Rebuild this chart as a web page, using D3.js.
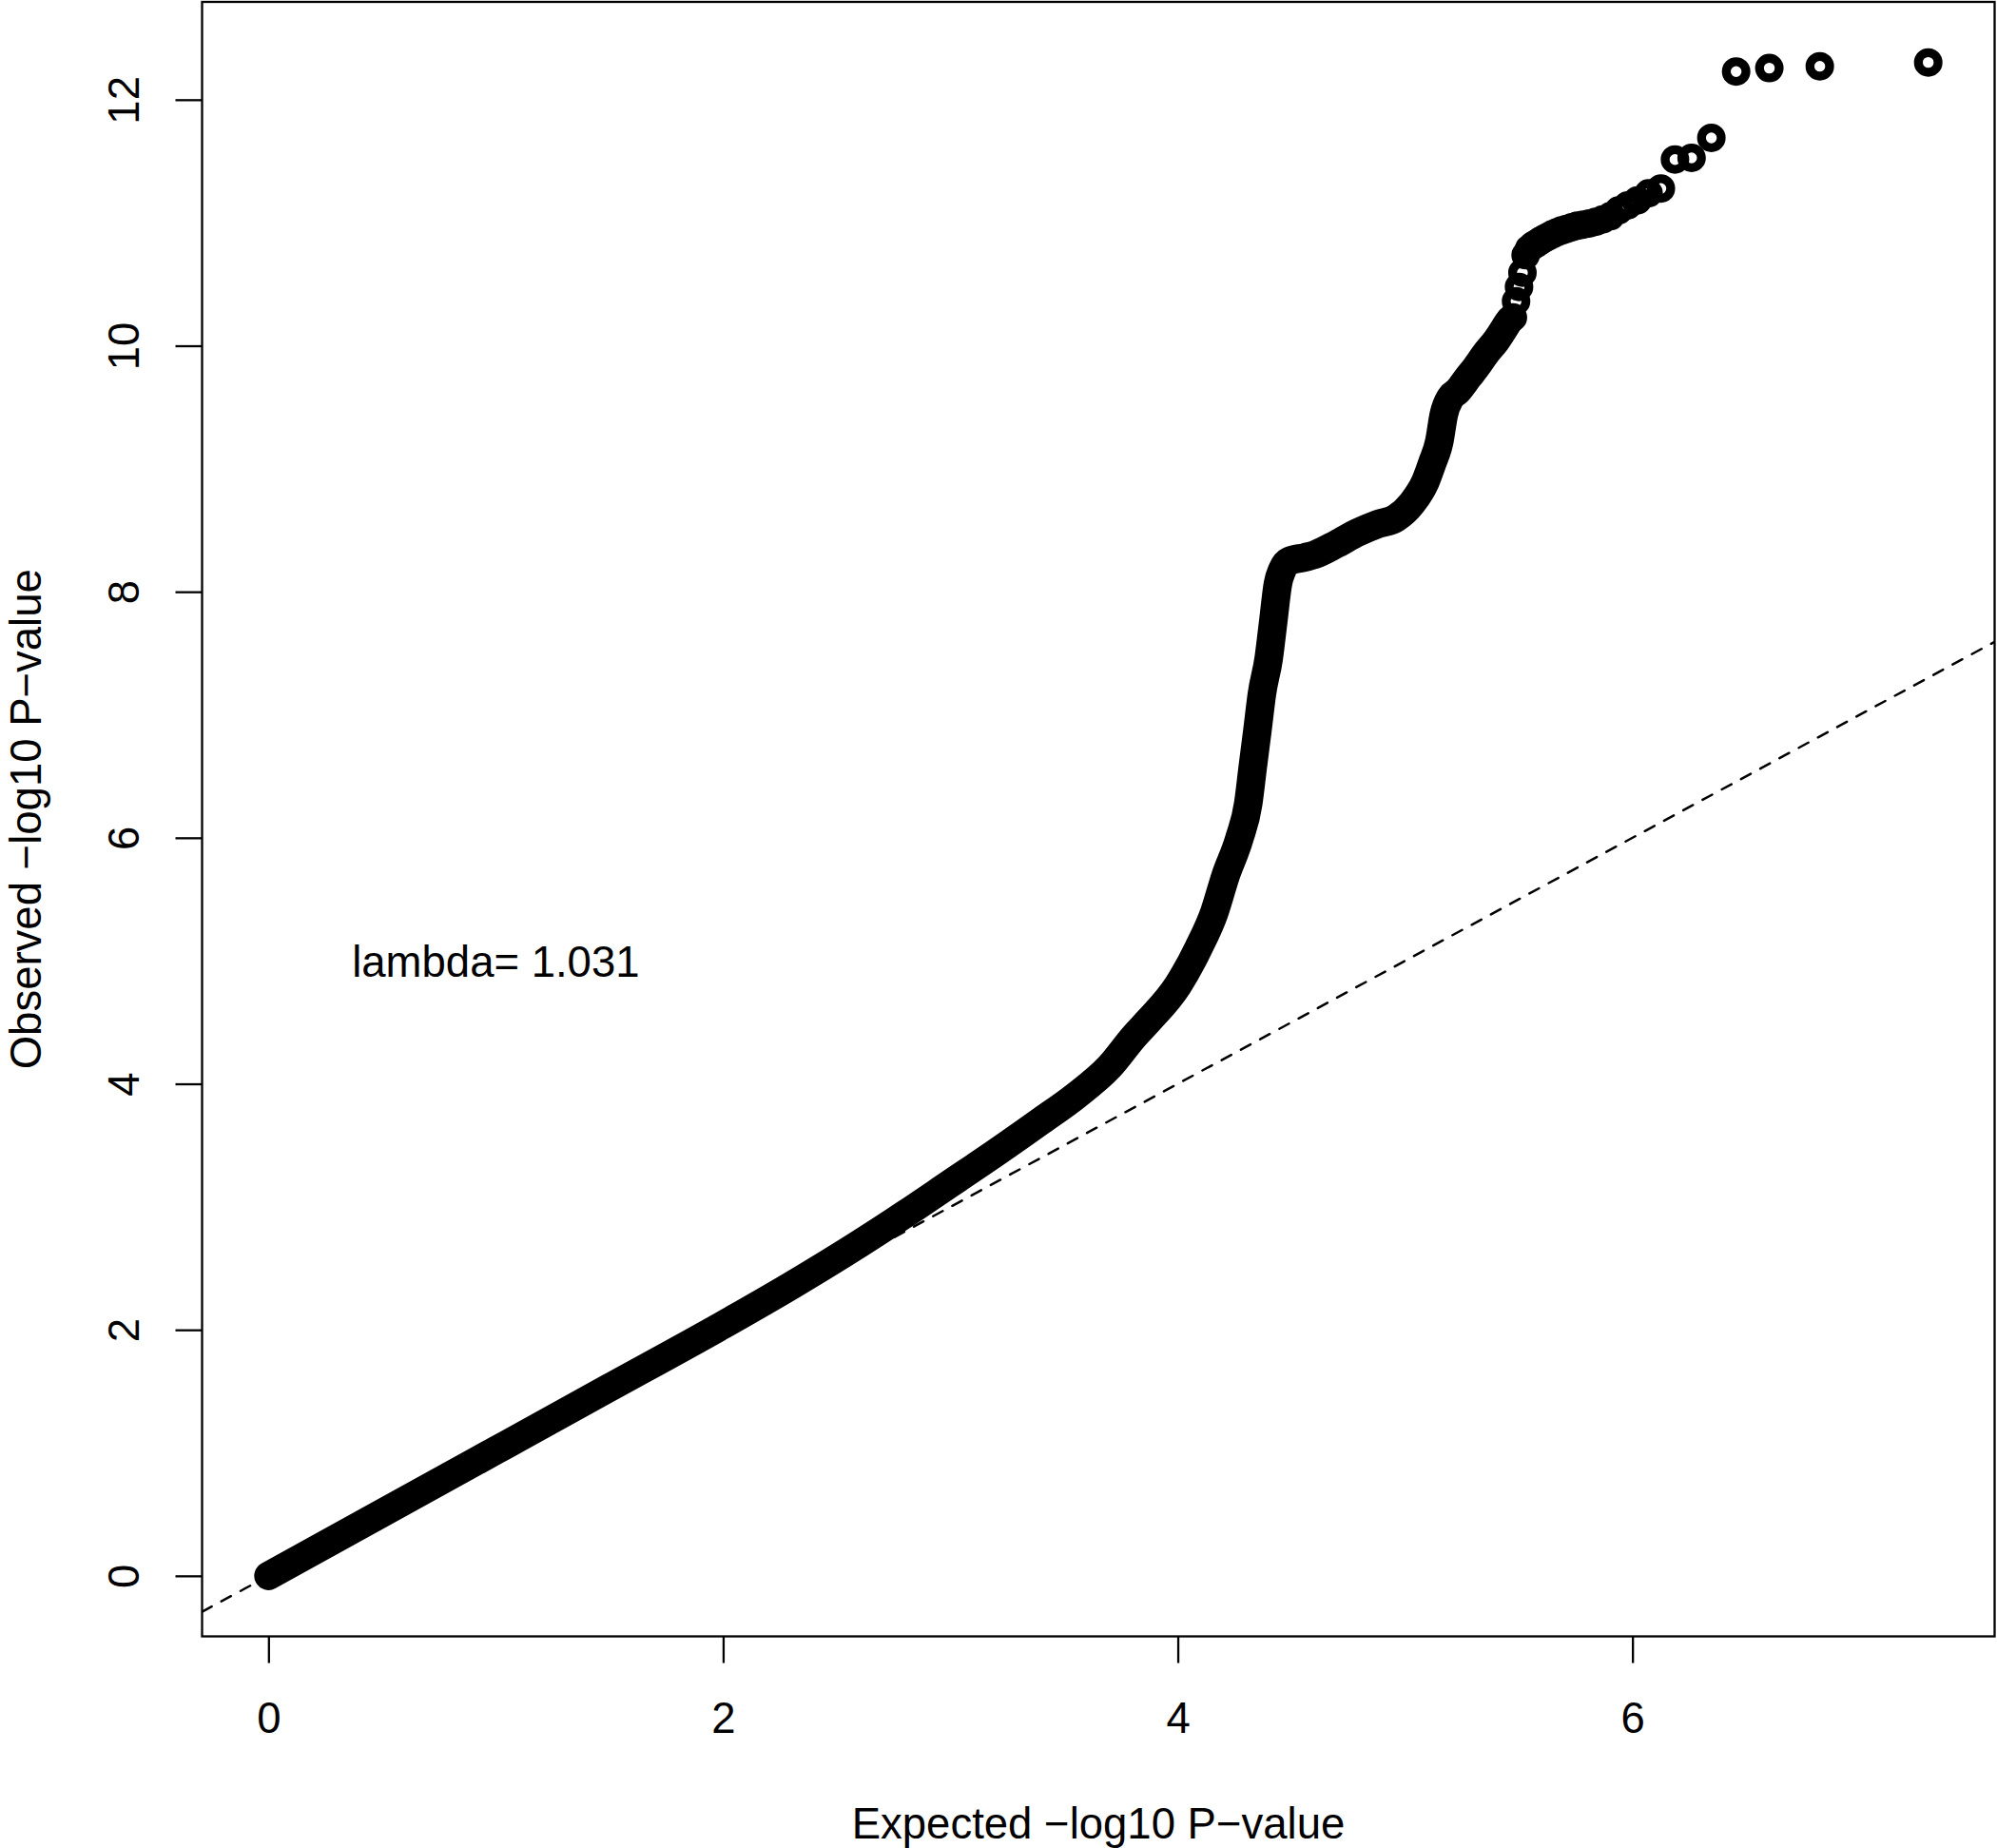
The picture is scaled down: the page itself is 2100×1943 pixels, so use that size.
<!DOCTYPE html>
<html>
<head>
<meta charset="utf-8">
<script src="https://cdn.jsdelivr.net/npm/d3@7"></script>
<style>
  html, body { margin: 0; padding: 0; background: #fff; }
  svg { display: block; }
  text { font-family: "Liberation Sans", Arial, Helvetica, sans-serif; fill: #000; }
</style>
</head>
<body>
<svg id="chart" width="2100" height="1943"></svg>
<script>
// ---- data ----
// dense part of the QQ curve (expected, observed)
const bandExpected = [0, 0.5, 1.0, 1.5, 2.0, 2.3, 2.6, 2.8, 3.0, 3.2, 3.4, 3.55, 3.7, 3.81, 3.87, 4.0, 4.09, 4.16, 4.21, 4.27, 4.31, 4.33, 4.35, 4.37, 4.40, 4.42, 4.44, 4.46, 4.49, 4.56, 4.60, 4.70, 4.79, 4.88, 4.96, 5.03, 5.09, 5.12, 5.15, 5.17, 5.20, 5.23, 5.28, 5.31, 5.36, 5.40, 5.449];
const bandObserved = [0, 0.51, 1.02, 1.53, 2.04, 2.36, 2.70, 2.94, 3.19, 3.44, 3.70, 3.90, 4.14, 4.39, 4.51, 4.80, 5.10, 5.39, 5.69, 5.99, 6.28, 6.58, 6.87, 7.17, 7.46, 7.76, 8.06, 8.18, 8.25, 8.28, 8.30, 8.39, 8.48, 8.55, 8.60, 8.72, 8.90, 9.05, 9.22, 9.44, 9.58, 9.63, 9.75, 9.82, 9.95, 10.04, 10.18];
// sparse tail points (individual circles)
const tailExpected = [7.301, 6.824, 6.602, 6.456, 6.347, 6.260, 6.187, 6.125, 6.071, 6.022, 5.979, 5.939, 5.903, 5.869, 5.838, 5.810, 5.783, 5.757, 5.733, 5.710, 5.688, 5.668, 5.648, 5.629, 5.611, 5.594, 5.577, 5.561, 5.545, 5.530, 5.516, 5.501, 5.488, 5.474, 5.461];
const tailObserved = [12.303, 12.272, 12.257, 12.229, 11.690, 11.527, 11.514, 11.278, 11.239, 11.182, 11.141, 11.100, 11.053, 11.027, 11.007, 10.994, 10.984, 10.976, 10.963, 10.950, 10.937, 10.922, 10.906, 10.888, 10.870, 10.852, 10.831, 10.813, 10.787, 10.736, 10.594, 10.478, 10.362, 10.230, 10.210];
const xTicks = [0, 2, 4, 6];
const yTicks = [0, 2, 4, 6, 8, 10, 12];
const xTitle = "Expected \u2212log10 P\u2212value";
const yTitle = "Observed \u2212log10 P\u2212value";
const lambdaLabel = "lambda= 1.031";
const lambdaPos = [1, 5];

(function () {
  // ---- layout ----
  const svg = d3.select("#chart");
  const pLeft = 212.5, pRight = 2097.5, pTop = 2, pBottom = 1720.5;
  const fontSize = 45.5;
  const fontFam = '"Liberation Sans", Arial, Helvetica, sans-serif';

  const xMax = d3.max(tailExpected), yMax = d3.max(tailObserved);
  const xScale = d3.scaleLinear().domain([-0.04 * xMax, xMax * 1.04]).range([pLeft, pRight]);
  const yScale = d3.scaleLinear().domain([-0.04 * yMax, yMax * 1.04]).range([pBottom, pTop]);

  svg.append("defs").append("clipPath").attr("id", "plotclip")
    .append("rect").attr("x", pLeft).attr("y", pTop)
    .attr("width", pRight - pLeft).attr("height", pBottom - pTop);

  const plot = svg.append("g").attr("clip-path", "url(#plotclip)");

  // reference line y = x
  const d0 = xScale.domain();
  plot.append("line")
    .attr("x1", xScale(d0[0])).attr("y1", yScale(d0[0]))
    .attr("x2", xScale(d0[1])).attr("y2", yScale(d0[1]))
    .attr("stroke", "#000").attr("stroke-width", 2.5)
    .attr("stroke-dasharray", "11.5,11.5").attr("stroke-linecap", "round");

  // dense band
  const band = bandExpected.map((x, i) => [x, bandObserved[i]]);
  plot.append("path")
    .datum(band)
    .attr("d", d3.line().x(d => xScale(d[0])).y(d => yScale(d[1])).curve(d3.curveMonotoneX))
    .attr("fill", "none").attr("stroke", "#000").attr("stroke-width", 30)
    .attr("stroke-linecap", "round").attr("stroke-linejoin", "round");

  // tail circles
  const tail = tailExpected.map((x, i) => [x, tailObserved[i]]);
  plot.selectAll("circle.tail").data(tail).enter().append("circle")
    .attr("class", "tail")
    .attr("cx", d => xScale(d[0])).attr("cy", d => yScale(d[1]))
    .attr("r", 10.35).attr("fill", "none").attr("stroke", "#000").attr("stroke-width", 9.3);

  // frame
  svg.append("rect").attr("x", pLeft).attr("y", pTop)
    .attr("width", pRight - pLeft).attr("height", pBottom - pTop)
    .attr("fill", "none").attr("stroke", "#000").attr("stroke-width", 2.3);

  // x axis
  const xAxis = d3.axisBottom(xScale).tickValues(xTicks).tickSize(28).tickPadding(0).tickFormat(d3.format("d"));
  const gx = svg.append("g").attr("transform", `translate(0,${pBottom})`).call(xAxis);
  gx.select(".domain").remove();
  gx.selectAll(".tick line").attr("stroke", "#000").attr("stroke-width", 2.3);
  gx.selectAll(".tick text").attr("y", 101).attr("dy", 0)
    .attr("font-size", fontSize).style("font-family", fontFam).attr("fill", "#000");

  // y axis
  const yAxis = d3.axisLeft(yScale).tickValues(yTicks).tickSize(28).tickFormat(d3.format("d"));
  const gy = svg.append("g").attr("transform", `translate(${pLeft},0)`).call(yAxis);
  gy.select(".domain").remove();
  gy.selectAll(".tick line").attr("stroke", "#000").attr("stroke-width", 2.3);
  gy.selectAll(".tick text")
    .attr("x", 0).attr("y", 0).attr("dy", 0)
    .attr("text-anchor", "middle")
    .attr("transform", `translate(${146 - pLeft},0) rotate(-90)`)
    .attr("font-size", fontSize).style("font-family", fontFam).attr("fill", "#000");

  // axis titles
  svg.append("text").attr("x", (pLeft + pRight) / 2).attr("y", 1932.5)
    .attr("text-anchor", "middle").attr("font-size", fontSize).text(xTitle);
  svg.append("text")
    .attr("transform", `translate(43,${(pTop + pBottom) / 2}) rotate(-90)`)
    .attr("text-anchor", "middle").attr("font-size", fontSize).text(yTitle);

  // lambda annotation
  svg.append("text").attr("x", xScale(lambdaPos[0])).attr("y", yScale(lambdaPos[1]))
    .attr("dy", "0.36em").attr("text-anchor", "middle").attr("font-size", fontSize).text(lambdaLabel);
})();
</script>
</body>
</html>
